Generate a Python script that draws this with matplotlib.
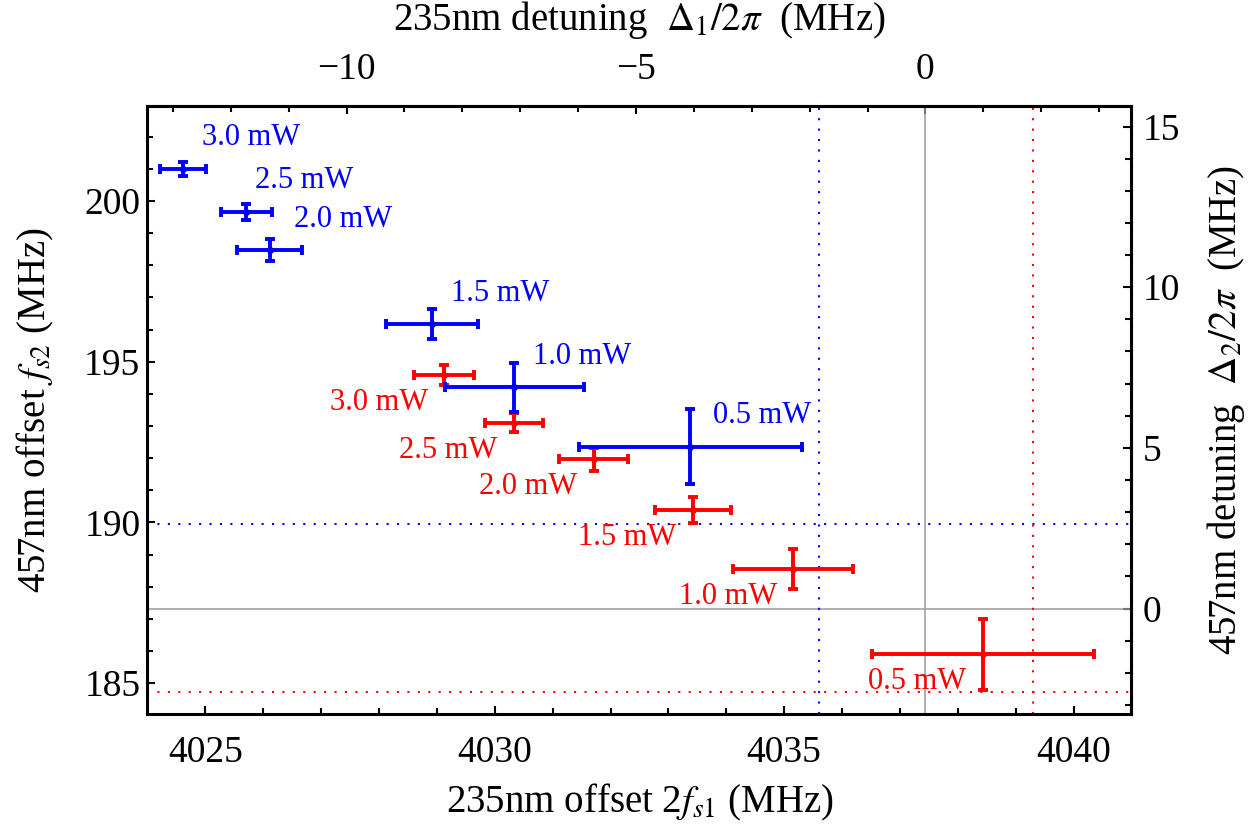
import matplotlib.pyplot as plt

plt.rcParams['font.family'] = ['Liberation Serif', 'DejaVu Serif']
plt.rcParams['mathtext.fontset'] = 'stix'

powers = ['3.0 mW', '2.5 mW', '2.0 mW', '1.5 mW', '1.0 mW', '0.5 mW']

# blue series
blue_x = [4024.61, 4025.71, 4026.11, 4028.92, 4030.34, 4033.38]
blue_xerr = [0.40, 0.44, 0.56, 0.79, 1.20, 1.93]
blue_y = [201.00, 199.67, 198.47, 196.17, 194.20, 192.35]
blue_yerr = [0.21, 0.25, 0.34, 0.47, 0.75, 1.17]

# red series
red_x = [4029.12, 4030.33, 4031.71, 4033.42, 4035.15, 4038.43]
red_xerr = [0.52, 0.50, 0.60, 0.66, 1.04, 1.92]
red_y = [194.60, 193.10, 191.96, 190.38, 188.54, 185.89]
red_yerr = [0.31, 0.30, 0.36, 0.40, 0.62, 1.11]

# resonance (zero detuning) and limit lines
x_res = 4037.44
y_res = 187.32
blue_vline = 4035.61
blue_hline = 189.94
red_vline = 4039.30
red_hline = 184.73

PX = 0.72  # points per pixel at dpi 100
FS = 27

fig = plt.figure(figsize=(12.6, 8.24), dpi=100)
ax = fig.add_axes([0.117, 0.134, 0.781, 0.737])

ax.axvline(x_res, color='#9a9a9a', lw=1.1, zorder=1)
ax.axhline(y_res, color='#9a9a9a', lw=1.1, zorder=1)
ax.axvline(blue_vline, color='blue', lw=1.5, ls=(0, (1, 4)), zorder=1)
ax.axhline(blue_hline, color='blue', lw=1.5, ls=(0, (1, 4)), zorder=1)
ax.axvline(red_vline, color='red', lw=1.5, ls=(0, (1, 4)), zorder=1)
ax.axhline(red_hline, color='red', lw=1.5, ls=(0, (1, 4)), zorder=1)

ax.errorbar(red_x, red_y, xerr=red_xerr, yerr=red_yerr, fmt='o', color='red',
            ms=4, elinewidth=2.8, capsize=3.8, capthick=2.8, zorder=3)
ax.errorbar(blue_x, blue_y, xerr=blue_xerr, yerr=blue_yerr, fmt='o', color='blue',
            ms=4, elinewidth=2.8, capsize=3.8, capthick=2.8, zorder=4)

blue_dx = [19, 9, 24, 19, 19, 23]
for i, lab in enumerate(powers):
    ax.annotate(lab, (blue_x[i], blue_y[i]), xytext=(blue_dx[i] * PX, 31 * PX),
                textcoords='offset points', ha='left', va='center',
                color='blue', fontsize=22)
    ax.annotate(lab, (red_x[i], red_y[i]), xytext=(-16 * PX, -27.5 * PX),
                textcoords='offset points', ha='right', va='center',
                color='red', fontsize=22)

ax.set_xlim(4024.0, 4041.0)
ax.set_ylim(184.05, 202.95)
ax.set_xticks([4025, 4030, 4035, 4040])
ax.set_xticks(range(4025, 4042), minor=True)
ax.set_yticks([185, 190, 195, 200])
ax.set_yticks(range(185, 203), minor=True)

top = ax.secondary_xaxis('top', functions=(lambda x: x - x_res, lambda d: d + x_res))
top.set_xticks([-10, -5, 0])
top.set_xticks(range(-13, 4), minor=True)
right = ax.secondary_yaxis('right', functions=(lambda y: y - y_res, lambda d: d + y_res))
right.set_yticks([0, 5, 10, 15])
right.set_yticks(range(-3, 16), minor=True)

for a in (ax, top, right):
    a.tick_params(which='major', direction='in', length=6, width=1.5, labelsize=FS)
    a.tick_params(which='minor', direction='in', length=4, width=1.5)
    for s in a.spines.values():
        s.set_linewidth(2.2)
ax.tick_params(axis='x', pad=16)
ax.tick_params(axis='y', pad=5)
top.tick_params(pad=14)
right.tick_params(pad=8)

ax.set_xlabel('235nm offset 2$f_{s1}$ (MHz)', fontsize=28, labelpad=8)
ax.set_ylabel('457nm offset $f_{s2}$ (MHz)', fontsize=28, labelpad=20)
top.set_xlabel('235nm detuning  $\\Delta_1/2\\pi$  (MHz)', fontsize=28, labelpad=16)
right.set_ylabel('457nm detuning  $\\Delta_2/2\\pi$  (MHz)', fontsize=28, labelpad=18)

fig.savefig('out.png', dpi=100)
